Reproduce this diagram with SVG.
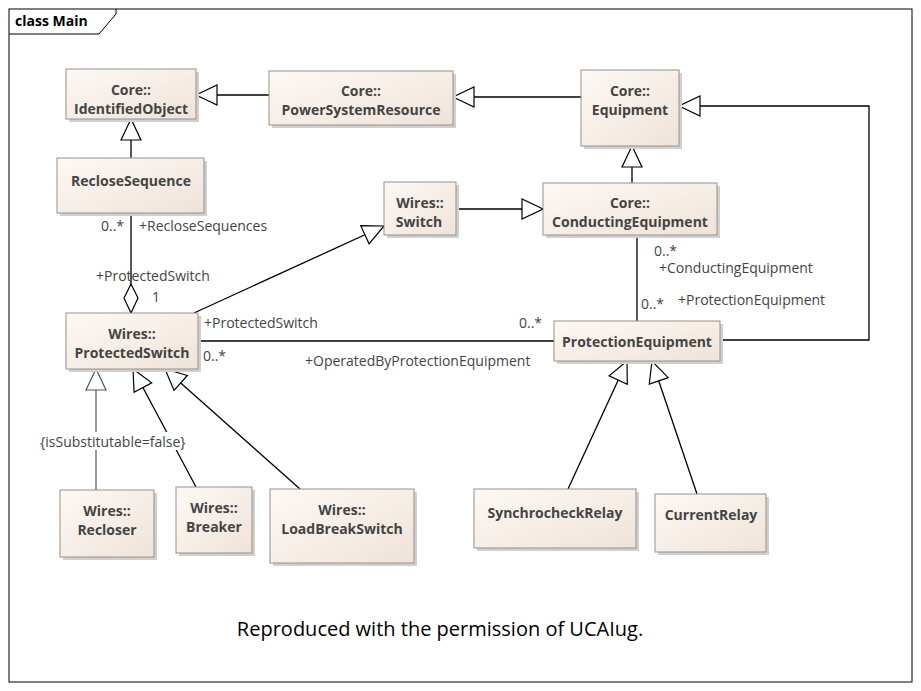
<svg xmlns="http://www.w3.org/2000/svg" width="921" height="691" viewBox="0 0 921 691">
<defs>
<linearGradient id="g" x1="0" y1="0" x2="1" y2="1"><stop offset="0" stop-color="#fdf9f5"/><stop offset="1" stop-color="#efe3d9"/></linearGradient>
<marker id="tri" markerUnits="userSpaceOnUse" markerWidth="24" markerHeight="24" refX="22" refY="11" orient="auto" viewBox="0 0 24 22"><path d="M22,11 L1,1 L1,21 Z" fill="#fff" stroke="#000" stroke-width="1.2"/></marker>
<marker id="trig" markerUnits="userSpaceOnUse" markerWidth="24" markerHeight="24" refX="22" refY="11" orient="auto" viewBox="0 0 24 22"><path d="M22,11 L1,1 L1,21 Z" fill="#fff" stroke="#556" stroke-width="1.2"/></marker>
<marker id="dia" markerUnits="userSpaceOnUse" markerWidth="32" markerHeight="16" refX="30" refY="8" orient="auto" viewBox="0 0 32 16"><path d="M30,8 L15,1 L1,8 L15,15 Z" fill="#fff" stroke="#000" stroke-width="1.2"/></marker>
</defs>
<style>
.box rect.b{fill:url(#g);stroke:#9a8f88;stroke-width:1}
.box rect.s{fill:#d0d0d0}
.t{font-family:"Open Sans","DejaVu Sans",sans-serif;font-weight:bold;font-size:14px;fill:#444;text-anchor:middle}
.l{font-family:"Open Sans","DejaVu Sans",sans-serif;font-size:14px;fill:#444}
.c{fill:none;stroke:#000;stroke-width:1.3}
</style>
<rect x="0" y="0" width="921" height="691" fill="#fff"/>
<rect x="9" y="9" width="903" height="673" fill="none" stroke="#000"/>
<path d="M9,34 H99 L116,14 V9" fill="none" stroke="#000"/>
<text x="15" y="26" style="font-family:'Open Sans','DejaVu Sans',sans-serif;font-weight:bold;font-size:14px;fill:#000">class Main</text>

<g id="connectors">
<line class="c" x1="269" y1="95" x2="196" y2="95" marker-end="url(#tri)"/>
<line class="c" x1="581" y1="97" x2="453" y2="97" marker-end="url(#tri)"/>
<line class="c" x1="131" y1="158" x2="131" y2="119" marker-end="url(#tri)"/>
<line class="c" x1="632" y1="183" x2="632" y2="146" marker-end="url(#tri)"/>
<line class="c" x1="456" y1="209" x2="543" y2="209" marker-end="url(#tri)"/>
<line class="c" x1="194" y1="313" x2="384" y2="226" marker-end="url(#tri)"/>
<polyline class="c" points="720,340 869,340 869,106 679,106" marker-end="url(#tri)"/>
<line class="c" x1="637" y1="235" x2="637" y2="321"/>
<line class="c" x1="198" y1="341" x2="554" y2="341"/>
<line class="c" x1="131" y1="213" x2="131" y2="313" marker-end="url(#dia)"/>
<line x1="96" y1="490" x2="96" y2="369" stroke="#556" stroke-width="1.2" fill="none" marker-end="url(#trig)"/>
<line class="c" x1="196" y1="487" x2="133" y2="369" marker-end="url(#tri)"/>
<line class="c" x1="300" y1="489" x2="165" y2="369" marker-end="url(#tri)"/>
<line class="c" x1="568" y1="489" x2="627" y2="361" marker-end="url(#tri)"/>
<line class="c" x1="697" y1="494" x2="652" y2="361" marker-end="url(#tri)"/>
<text class="l" x="101" y="231">0..*</text>
<text class="l" x="139" y="231">+RecloseSequences</text>
<text class="l" x="96" y="281">+ProtectedSwitch</text>
<text class="l" x="152" y="302">1</text>
<text class="l" x="204" y="328">+ProtectedSwitch</text>
<text class="l" x="203" y="361">0..*</text>
<text class="l" x="305" y="366">+OperatedByProtectionEquipment</text>
<text class="l" x="519" y="328">0..*</text>
<text class="l" x="654" y="256">0..*</text>
<text class="l" x="659" y="273">+ConductingEquipment</text>
<text class="l" x="641" y="309">0..*</text>
<text class="l" x="678" y="305">+ProtectionEquipment</text>
<rect x="40" y="432" width="154" height="18" fill="#fff"/>
<text class="l" x="40" y="447">{isSubstitutable=false}</text>
</g>

<g id="IdentifiedObject" class="box"><rect class="s" x="69" y="72" width="130" height="50"/><rect class="b" x="66" y="69" width="130" height="50"/><text class="t" x="131" y="95">Core::</text><text class="t" x="131" y="114">IdentifiedObject</text></g>
<g id="PowerSystemResource" class="box"><rect class="s" x="272" y="74" width="184" height="54"/><rect class="b" x="269" y="71" width="184" height="54"/><text class="t" x="361" y="96">Core::</text><text class="t" x="361" y="115">PowerSystemResource</text></g>
<g id="Equipment" class="box"><rect class="s" x="584" y="73" width="98" height="76"/><rect class="b" x="581" y="70" width="98" height="76"/><text class="t" x="630" y="96">Core::</text><text class="t" x="630" y="115">Equipment</text></g>
<g id="RecloseSequence" class="box"><rect class="s" x="60" y="161" width="147" height="55"/><rect class="b" x="57" y="158" width="147" height="55"/><text class="t" x="131" y="186">RecloseSequence</text></g>
<g id="Switch" class="box"><rect class="s" x="387" y="185" width="72" height="53"/><rect class="b" x="384" y="182" width="72" height="53"/><text class="t" x="420" y="208">Wires::</text><text class="t" x="419" y="227">Switch</text></g>
<g id="ConductingEquipment" class="box"><rect class="s" x="546" y="186" width="174" height="52"/><rect class="b" x="543" y="183" width="174" height="52"/><text class="t" x="630" y="208">Core::</text><text class="t" x="630" y="227">ConductingEquipment</text></g>
<g id="ProtectedSwitch" class="box"><rect class="s" x="69" y="316" width="132" height="56"/><rect class="b" x="66" y="313" width="132" height="56"/><text class="t" x="132" y="339">Wires::</text><text class="t" x="132" y="358">ProtectedSwitch</text></g>
<g id="ProtectionEquipment" class="box"><rect class="s" x="557" y="324" width="166" height="40"/><rect class="b" x="554" y="321" width="166" height="40"/><text class="t" x="637" y="347">ProtectionEquipment</text></g>
<g id="Recloser" class="box"><rect class="s" x="63" y="493" width="94" height="67"/><rect class="b" x="60" y="490" width="94" height="67"/><text class="t" x="107" y="516">Wires::</text><text class="t" x="107" y="535">Recloser</text></g>
<g id="Breaker" class="box"><rect class="s" x="179" y="490" width="76" height="66"/><rect class="b" x="176" y="487" width="76" height="66"/><text class="t" x="214" y="513">Wires::</text><text class="t" x="214" y="532">Breaker</text></g>
<g id="LoadBreakSwitch" class="box"><rect class="s" x="273" y="492" width="144" height="74"/><rect class="b" x="270" y="489" width="144" height="74"/><text class="t" x="342" y="515">Wires::</text><text class="t" x="342" y="534">LoadBreakSwitch</text></g>
<g id="SynchrocheckRelay" class="box"><rect class="s" x="477" y="492" width="162" height="59"/><rect class="b" x="474" y="489" width="162" height="59"/><text class="t" x="555" y="518">SynchrocheckRelay</text></g>
<g id="CurrentRelay" class="box"><rect class="s" x="658" y="497" width="111" height="58"/><rect class="b" x="655" y="494" width="111" height="58"/><text class="t" x="711" y="520">CurrentRelay</text></g>

<text x="440" y="636" style="font-family:'Open Sans','DejaVu Sans',sans-serif;font-size:20px;fill:#000;text-anchor:middle">Reproduced with the permission of UCAIug.</text>
</svg>
